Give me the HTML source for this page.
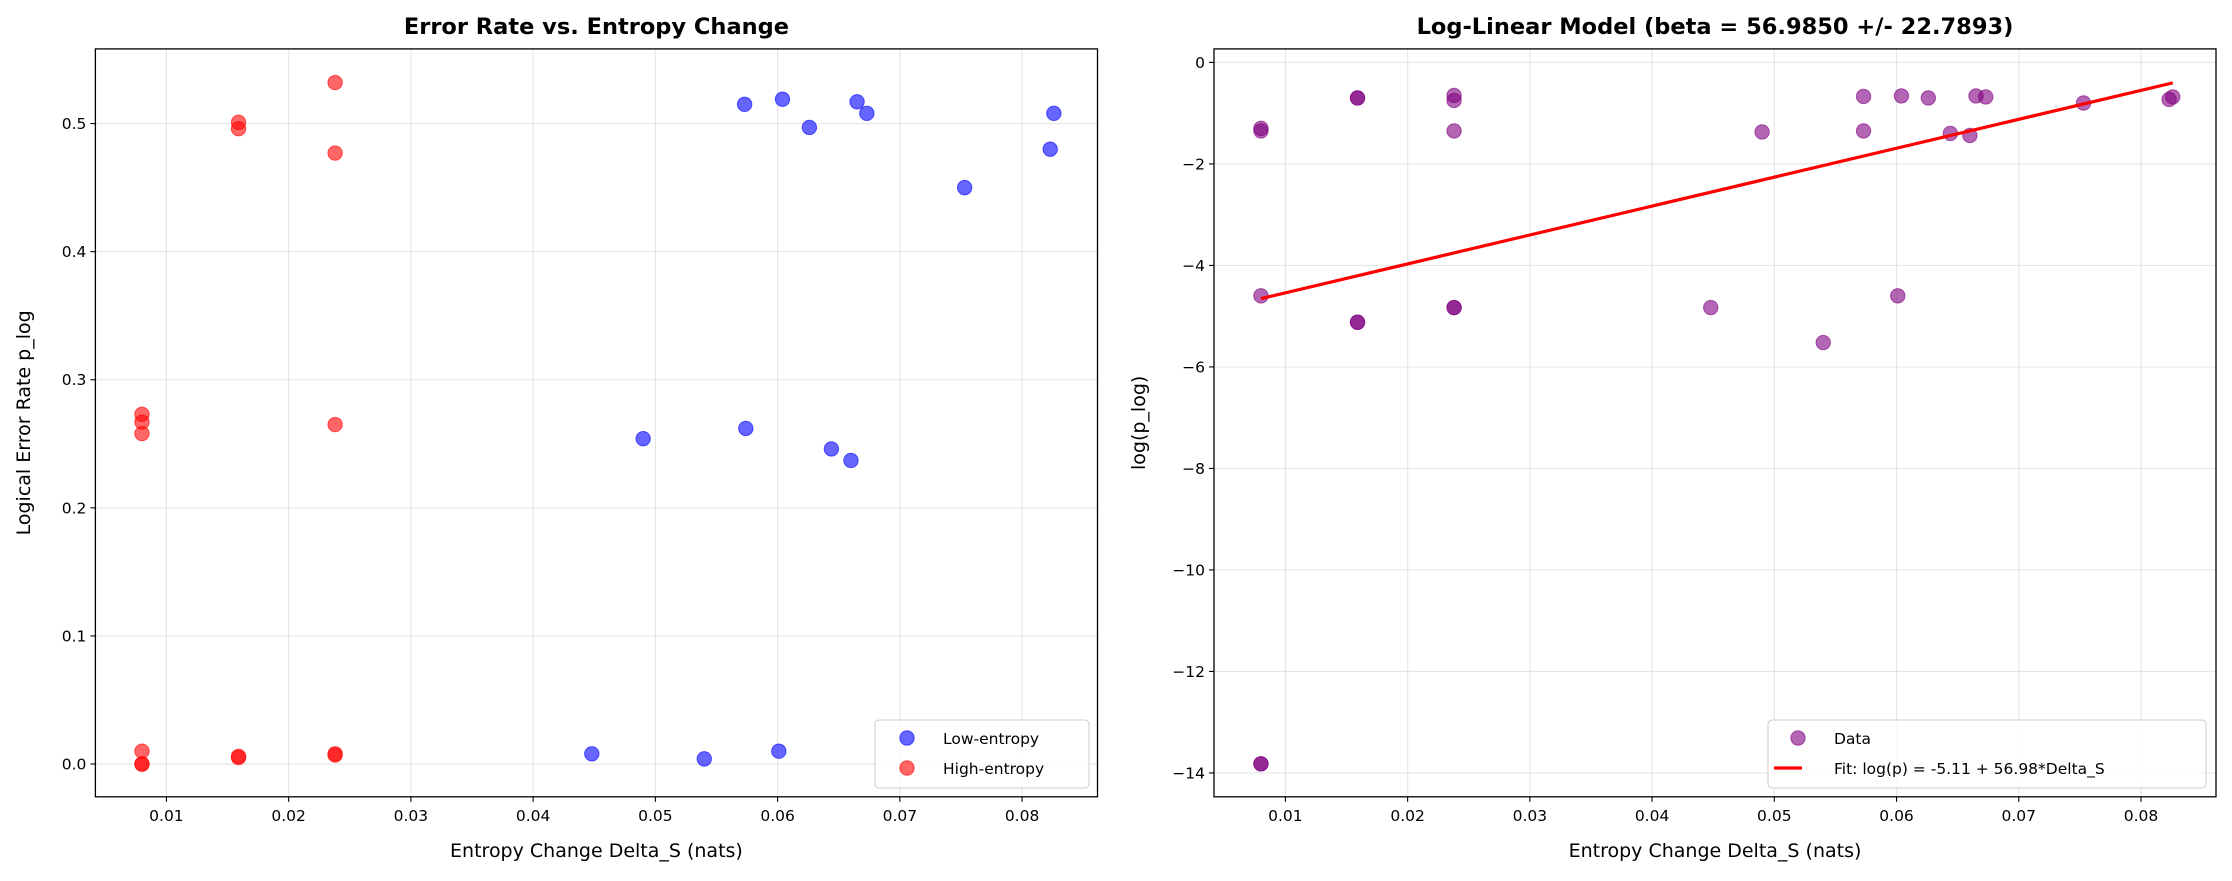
<!DOCTYPE html>
<html><head><meta charset="utf-8"><style>
html,body{margin:0;padding:0;background:#fff;}
svg{display:block;font-family:"DejaVu Sans","Liberation Sans",sans-serif;}
</style></head><body>
<svg id="chart" width="2232" height="881" viewBox="0 0 2232 881" xmlns="http://www.w3.org/2000/svg"></svg>
<script>
const lowX=[0.0448,0.0490,0.0540,0.0573,0.0574,0.0601,0.0604,0.0626,0.0644,0.0660,0.0665,0.0673,0.0753,0.0823,0.0826];
const lowY=[0.008,0.254,0.004,0.515,0.262,0.010,0.519,0.497,0.246,0.237,0.517,0.508,0.450,0.480,0.508];
const highX=[0.0080,0.0080,0.0080,0.0080,0.0080,0.0080,0.0159,0.0159,0.0159,0.0159,0.0238,0.0238,0.0238,0.0238,0.0238];
const highY=[0.273,0.267,0.258,0.010,0.0,0.0,0.501,0.496,0.006,0.005,0.532,0.477,0.265,0.008,0.007];
const logX=[0.0080,0.0080,0.0080,0.0080,0.0080,0.0159,0.0159,0.0159,0.0159,0.0238,0.0238,0.0238,0.0238,0.0238,0.0448,0.0490,0.0540,0.0573,0.0573,0.0601,0.0604,0.0626,0.0644,0.0660,0.0665,0.0673,0.0753,0.0823,0.0826];
const logY=[-1.30,-1.35,-4.60,-13.82,-13.82,-0.70,-0.70,-5.12,-5.12,-0.65,-0.75,-1.35,-4.83,-4.83,-4.83,-1.37,-5.52,-0.67,-1.35,-4.60,-0.66,-0.70,-1.40,-1.44,-0.66,-0.68,-0.80,-0.73,-0.68];
const fitA=-5.11, fitB=56.98, fitRange=[0.0080,0.0826];
const xTicks=[0.01,0.02,0.03,0.04,0.05,0.06,0.07,0.08];
const leftYTicks=[0.0,0.1,0.2,0.3,0.4,0.5];
const rightYTicks=[0,-2,-4,-6,-8,-10,-12,-14];

const svg=document.getElementById('chart');
const NS='http://www.w3.org/2000/svg';
function mk(tag,attrs,parent,text){const e=document.createElementNS(NS,tag);for(const k in attrs)e.setAttribute(k,attrs[k]);if(text!==undefined)e.textContent=text;(parent||svg).appendChild(e);return e;}
function scale(d0,d1,r0,r1){return v=>r0+(v-d0)/(d1-d0)*(r1-r0);}

function panel(o){
  const g=mk('g',{});
  
  
  const sx=scale(o.xd[0],o.xd[1],o.L,o.R), sy=scale(o.yd[0],o.yd[1],o.B,o.T);
  xTicks.forEach(t=>{const l=mk('line',{x1:sx(t),x2:sx(t),y1:o.T,y2:o.B,stroke:'#b0b0b0','stroke-opacity':0.3,'stroke-width':1.2},g);
    });
  o.yTicks.forEach(t=>{const l=mk('line',{x1:o.L,x2:o.R,y1:sy(t),y2:sy(t),stroke:'#b0b0b0','stroke-opacity':0.3,'stroke-width':1.2},g);
    });
  xTicks.forEach(t=>{mk('line',{x1:sx(t),x2:sx(t),y1:o.B,y2:o.B+5,stroke:'#000','stroke-width':1.1},g);
    const tx=mk('text',{x:sx(t),y:o.B+24,'text-anchor':'middle','font-size':15.5},g,t.toFixed(2));
    });
  o.yTicks.forEach(t=>{mk('line',{x1:o.L-5,x2:o.L,y1:sy(t),y2:sy(t),stroke:'#000','stroke-width':1.1},g);
    const s=o.fmt(t);
    const tx=mk('text',{x:o.L-9,y:sy(t)+5.5,'text-anchor':'end','font-size':15.5},g,s);
    });
  return {g,sx,sy};
}
function frame(o,g){const r=mk('rect',{x:o.L,y:o.T,width:o.R-o.L,height:o.B-o.T,fill:'none',stroke:'#000','stroke-width':1.3},g);
  }
function dot(g,x,y,c,name){const d=mk('circle',{cx:x,cy:y,r:7.2,fill:c,'fill-opacity':0.6,stroke:c,'stroke-opacity':0.6,'stroke-width':1},g);
  }

const LO={name:'left-chart',L:95.4,R:1097.5,T:48.9,B:796.8,xd:[0.00419,0.08617],yd:[-0.0256,0.5583],yTicks:leftYTicks,fmt:t=>t.toFixed(1)};
const P1=panel(LO);
lowX.forEach((x,i)=>dot(P1.g,P1.sx(x),P1.sy(lowY[i]),'#0000ff','low-entropy-point'));
highX.forEach((x,i)=>dot(P1.g,P1.sx(x),P1.sy(highY[i]),'#ff0000','high-entropy-point'));
frame(LO,P1.g);
let t=mk('text',{x:(LO.L+LO.R)/2,y:34,'text-anchor':'middle','font-size':22.5,'font-weight':'bold'},P1.g,'Error Rate vs. Entropy Change');

t=mk('text',{x:(LO.L+LO.R)/2,y:857,'text-anchor':'middle','font-size':19},P1.g,'Entropy Change Delta_S (nats)');

t=mk('text',{x:0,y:0,'text-anchor':'middle','font-size':19,transform:`translate(30,${(LO.T+LO.B)/2}) rotate(-90)`},P1.g,'Logical Error Rate p_log');

let lg=mk('g',{},P1.g);
mk('rect',{x:875,y:720,width:214,height:68,rx:4,fill:'#fff','fill-opacity':0.8,stroke:'#ccc','stroke-width':1},lg);
dot(lg,907,738,'#0000ff','legend-low-entropy-marker');
dot(lg,907,768,'#ff0000','legend-high-entropy-marker');
t=mk('text',{x:943,y:744,'font-size':15.5},lg,'Low-entropy');
t=mk('text',{x:943,y:774,'font-size':15.5},lg,'High-entropy');

const RO={name:'right-chart',L:1214,R:2216,T:48.9,B:796.8,xd:(function(){const a=1285.4,b=2141;const per=(b-a)/0.07;return [0.01-(a-1214)/per,0.08+(2216-b)/per];})(),yd:[-14.47,0.266],yTicks:rightYTicks,fmt:t=>(t<0?'\u2212'+(-t):String(t))};
const P2=panel(RO);
logX.forEach((x,i)=>dot(P2.g,P2.sx(x),P2.sy(logY[i]),'#800080','data-point'));
const fl=mk('line',{x1:P2.sx(fitRange[0]),y1:P2.sy(fitA+fitB*fitRange[0]),x2:P2.sx(fitRange[1]),y2:P2.sy(fitA+fitB*fitRange[1]),stroke:'#ff0000','stroke-width':3.2},P2.g);

frame(RO,P2.g);
t=mk('text',{x:(RO.L+RO.R)/2,y:34,'text-anchor':'middle','font-size':22.5,'font-weight':'bold'},P2.g,'Log-Linear Model (beta = 56.9850 +/- 22.7893)');

t=mk('text',{x:(RO.L+RO.R)/2,y:857,'text-anchor':'middle','font-size':19},P2.g,'Entropy Change Delta_S (nats)');

t=mk('text',{x:0,y:0,'text-anchor':'middle','font-size':19,transform:`translate(1145,${(RO.T+RO.B)/2}) rotate(-90)`},P2.g,'log(p_log)');

lg=mk('g',{},P2.g);
mk('rect',{x:1768,y:720,width:438,height:68,rx:4,fill:'#fff','fill-opacity':0.8,stroke:'#ccc','stroke-width':1},lg);
dot(lg,1798,738,'#800080','legend-data-marker');
mk('line',{x1:1774,x2:1802,y1:768,y2:768,stroke:'#ff0000','stroke-width':3.2},lg);
t=mk('text',{x:1834,y:744,'font-size':15.5},lg,'Data');
t=mk('text',{x:1834,y:774,'font-size':15.5},lg,'Fit: log(p) = -5.11 + 56.98*Delta_S');
</script>
</body></html>
